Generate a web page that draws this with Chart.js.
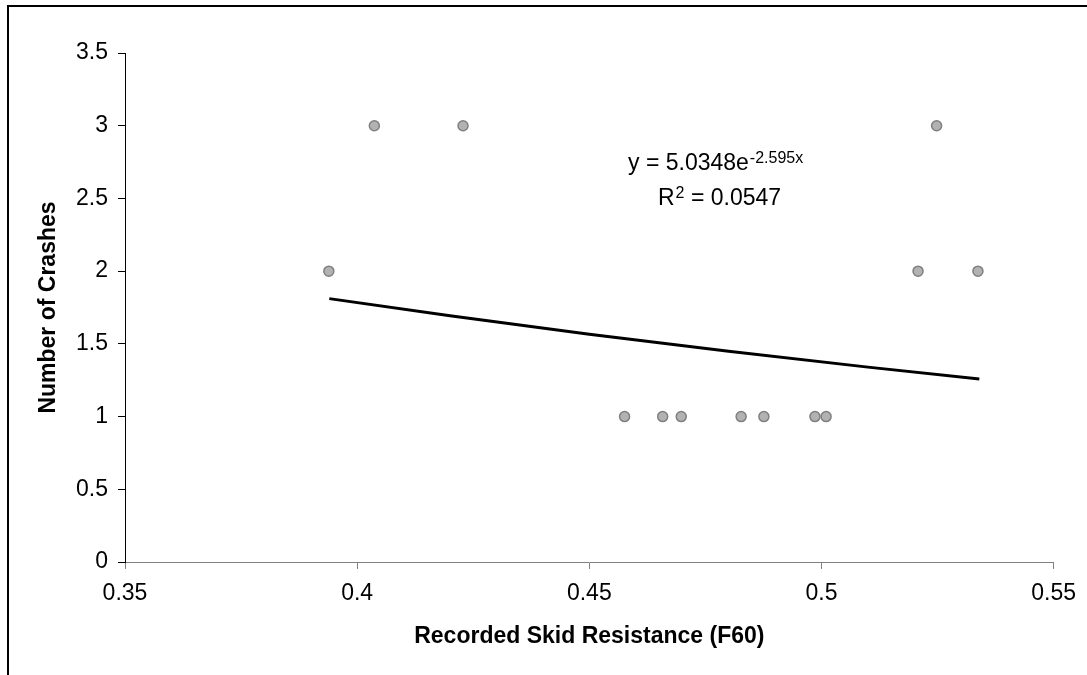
<!DOCTYPE html>
<html>
<head>
<meta charset="utf-8">
<script src="https://cdn.jsdelivr.net/npm/chart.js@4/dist/chart.umd.min.js"></script>
<style>
html,body{margin:0;padding:0;background:#fff;}
canvas{display:block;}
</style>
</head>
<body>
<canvas id="c" width="1087" height="675"></canvas>
<script>
// Observed data
const skidResistance = [0.3939, 0.4037, 0.4228, 0.4576, 0.4658, 0.4698, 0.4827, 0.4876, 0.4986, 0.5010, 0.5208, 0.5248, 0.5337];
const crashCounts    = [2, 3, 3, 1, 1, 1, 1, 1, 1, 1, 2, 3, 2];
// Trendline points
const trendX = [0.394, 0.42, 0.45, 0.48, 0.51, 0.534];
const trendY = [1.811, 1.693, 1.566, 1.449, 1.340, 1.259];
// Tick labels
const xTicks = [0.35, 0.4, 0.45, 0.5, 0.55];
const yTicks = [0, 0.5, 1, 1.5, 2, 2.5, 3, 3.5];
// Texts
const xTitle = 'Recorded Skid Resistance (F60)';
const yTitle = 'Number of Crashes';
const eqMain = 'y = 5.0348e';
const eqExp = '-2.595x';
const r2Main = 'R';
const r2Sup = '2';
const r2Rest = ' = 0.0547';

const FONT = "'Liberation Sans', Arial, sans-serif";
const FS = 23;

const frame = {
  id: 'frame',
  beforeDraw(chart) {
    const ctx = chart.ctx;
    ctx.save();
    ctx.fillStyle = '#fff';
    ctx.fillRect(0, 0, chart.width, chart.height);
    ctx.strokeStyle = '#000';
    ctx.lineWidth = 2;
    ctx.strokeRect(8, 6, 1200, 800);
    ctx.restore();
  },
  afterDraw(chart) {
    const ctx = chart.ctx;
    ctx.save();
    ctx.fillStyle = '#000';
    ctx.textBaseline = 'alphabetic';
    ctx.textAlign = 'left';
    ctx.font = FS + 'px ' + FONT;
    let x = 628, y = 170;
    ctx.fillText(eqMain, x, y);
    let w = ctx.measureText(eqMain).width;
    ctx.font = '16px ' + FONT;
    ctx.fillText(eqExp, x + w + 1, y - 7);
    ctx.font = FS + 'px ' + FONT;
    x = 658; y = 205;
    ctx.fillText(r2Main, x, y);
    w = ctx.measureText(r2Main).width;
    ctx.font = '16px ' + FONT;
    ctx.fillText(r2Sup, x + w + 1, y - 7);
    const w2 = ctx.measureText(r2Sup).width;
    ctx.font = FS + 'px ' + FONT;
    ctx.fillText(r2Rest, x + w + w2 + 1, y);
    ctx.restore();
  }
};

new Chart(document.getElementById('c'), {
  type: 'scatter',
  data: {
    datasets: [
      {
        label: 'Trend',
        data: trendX.map((v, i) => ({x: v, y: trendY[i]})),
        showLine: true,
        borderColor: '#000',
        borderWidth: 3,
        pointRadius: 0,
        tension: 0,
        fill: false
      },
      {
        label: 'Crashes',
        data: skidResistance.map((v, i) => ({x: v, y: crashCounts[i]})),
        backgroundColor: '#b2b2b2',
        borderColor: '#808080',
        borderWidth: 1.5,
        pointRadius: 5
      }
    ]
  },
  options: {
    responsive: false,
    animation: false,
    layout: {padding: {left: 0, top: 53, right: 33, bottom: 0}},
    plugins: {legend: {display: false}, tooltip: {enabled: false}},
    scales: {
      x: {
        type: 'linear',
        min: 0.35, max: 0.55,
        afterBuildTicks: s => { s.ticks = xTicks.map(v => ({value: v})); },
        afterFit: s => { s.height = 113; },
        ticks: {color: '#000', font: {family: FONT, size: FS}, padding: 11, maxRotation: 0,
                callback: v => String(v)},
        grid: {drawOnChartArea: false, tickLength: 7, color: '#808080'},
        border: {color: '#808080', width: 1},
        title: {display: true, text: xTitle, color: '#000',
                font: {family: FONT, size: FS, weight: 'bold'}, padding: {bottom: 25, top: 0}}
      },
      y: {
        type: 'linear',
        min: 0, max: 3.5,
        afterBuildTicks: s => { s.ticks = yTicks.map(v => ({value: v})); },
        afterFit: s => { s.width = 125; },
        ticks: {color: '#000', font: {family: FONT, size: FS}, padding: 10,
                callback: v => String(v)},
        grid: {drawOnChartArea: false, tickLength: 7, color: '#000'},
        border: {color: '#000', width: 1},
        title: {display: true, text: yTitle, color: '#000',
                font: {family: FONT, size: FS, weight: 'bold'}, padding: {top: 35, bottom: 0}}
      }
    }
  },
  plugins: [frame]
});
</script>
</body>
</html>
